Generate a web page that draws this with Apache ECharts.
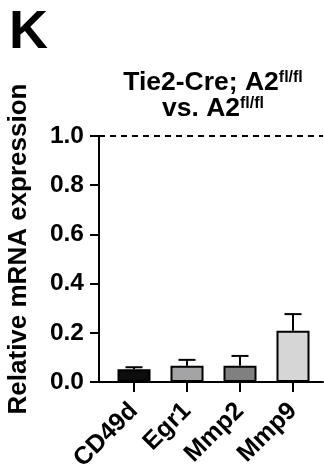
<!DOCTYPE html>
<html><head><meta charset="utf-8">
<script src="https://cdn.jsdelivr.net/npm/echarts@6/dist/echarts.min.js"></script>
<style>html,body{margin:0;padding:0;background:#fff}#c{width:324px;height:475px}</style>
</head><body><div id="c"></div>
<script>
// ---- data ----
var categories = ['CD49d', 'Egr1', 'Mmp2', 'Mmp9'];
var means = [0.052, 0.066, 0.066, 0.208];
var sems = [0.008, 0.024, 0.040, 0.068];
var yTicks = [0.0, 0.2, 0.4, 0.6, 0.8, 1.0];
var referenceLevel = 1.0;

// ---- style ----
var FONT = '"Liberation Sans", Arial, Helvetica, sans-serif';
var barColors = ['#0d0d0d', '#a4a4a6', '#808080', '#d6d6d6'];

var chart = echarts.init(document.getElementById('c'), null, {renderer: 'canvas'});

var barData = means.map(function (v, i) {
  return {value: v, itemStyle: {color: barColors[i]}};
});
var errData = means.map(function (v, i) { return [i, v, sems[i]]; });

chart.setOption({
  animation: false,
  backgroundColor: '#fff',
  graphic: [
    {type: 'text', left: 9, top: 6, style: {text: 'K', font: 'bold 54px ' + FONT, fill: '#000'}},
    {type: 'text', x: 213, y: 70, style: {
      text: '{a|Tie2-Cre; A2}{s|fl/fl}\n{a|vs. A2}{s|fl/fl}',
      align: 'center', verticalAlign: 'top', fill: '#000',
      rich: {
        a: {fontSize: 26.5, fontWeight: 'bold', fontFamily: FONT, lineHeight: 26, fill: '#000'},
        s: {fontSize: 16, fontWeight: 'bold', fontFamily: FONT, lineHeight: 14, verticalAlign: 'top', fill: '#000'}
      }
    }}
  ],
  grid: [
    {left: 99, right: 1, top: 136, bottom: 93, outerBoundsMode: 'none', containLabel: false},
    {left: 107.5, width: 212, top: 136, bottom: 93, outerBoundsMode: 'none', containLabel: false}
  ],
  xAxis: [
    {gridIndex: 0, type: 'value', min: 0, max: 1, axisLine: {show: true, lineStyle: {color: '#000', width: 2}},
      axisTick: {show: false}, axisLabel: {show: false}, splitLine: {show: false}},
    {gridIndex: 1, type: 'category', data: categories, axisLine: {show: false},
      axisTick: {show: true, alignWithLabel: true, length: 10, lineStyle: {color: '#000', width: 2}},
      axisLabel: {rotate: 45, margin: 25, color: '#000', fontSize: 25, fontWeight: 'bold', fontFamily: FONT},
      splitLine: {show: false}}
  ],
  yAxis: [
    {gridIndex: 0, type: 'value', min: yTicks[0], max: yTicks[yTicks.length - 1], interval: 0.2,
      name: 'Relative mRNA expression', nameLocation: 'middle', nameGap: 67,
      nameTextStyle: {fontSize: 26, fontWeight: 'bold', fontFamily: FONT, color: '#000', padding: [0, 0, 0, 20]},
      axisLine: {show: true, lineStyle: {color: '#000', width: 2}},
      axisTick: {show: true, length: 9, lineStyle: {color: '#000', width: 2}},
      axisLabel: {margin: 15, color: '#000', fontSize: 24.5, fontWeight: 'bold', fontFamily: FONT,
        formatter: function (v) { return v.toFixed(1); }},
      splitLine: {show: false}},
    {gridIndex: 1, type: 'value', min: yTicks[0], max: yTicks[yTicks.length - 1], show: false}
  ],
  series: [
    {type: 'line', xAxisIndex: 0, yAxisIndex: 0, data: [], silent: true,
      markLine: {symbol: 'none', silent: true, label: {show: false},
        lineStyle: {color: '#000', width: 2, type: [6, 5]},
        data: [{yAxis: referenceLevel}]}},
    {type: 'custom', xAxisIndex: 1, yAxisIndex: 1, data: errData, z: 1,
      renderItem: function (params, api) {
        var i = api.value(0), m = api.value(1), e = api.value(2);
        var p0 = api.coord([i, m]);
        var p1 = api.coord([i, m + e]);
        var hw = 8.5;
        return {type: 'group', children: [
          {type: 'line', shape: {x1: p0[0], y1: p0[1], x2: p1[0], y2: p1[1]}, style: {stroke: '#000', lineWidth: 2}},
          {type: 'line', shape: {x1: p1[0] - hw, y1: p1[1], x2: p1[0] + hw, y2: p1[1]}, style: {stroke: '#000', lineWidth: 2}}
        ]};
      }},
    {type: 'bar', xAxisIndex: 1, yAxisIndex: 1, data: barData, barWidth: 33, z: 3,
      itemStyle: {borderColor: '#000', borderWidth: 2}}
  ]
});
</script></body></html>
